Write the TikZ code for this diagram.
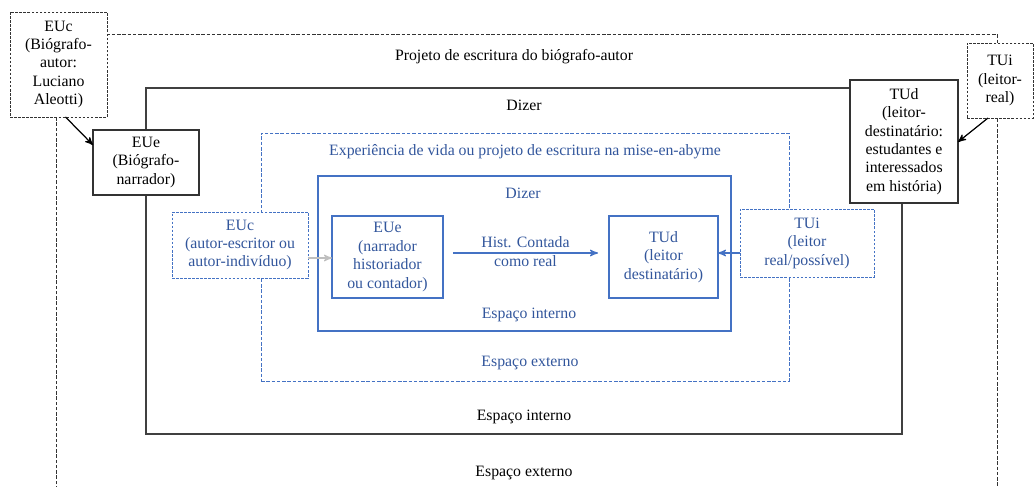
\documentclass[tikz,border=0pt]{standalone}
\usepackage{fontspec}
\setmainfont{Liberation Serif}
\usetikzlibrary{shapes,arrows}
\definecolor{miseblue}{RGB}{68,114,196}
\definecolor{misetext}{RGB}{50,86,156}

\tikzset{
  frame/.style={rectangle, draw=black!75, line width=0.9pt, inner sep=0pt, outer sep=0pt},
  dashframe/.style={draw=black!80, dash pattern=on 2pt off 1pt, line width=0.5pt},
  biobox/.style={rectangle, draw=black!80, line width=0.8pt, fill=white,
                 align=center, inner sep=0pt, outer sep=0pt},
  biodash/.style={biobox, dash pattern=on 1.5pt off 0.8pt, line width=0.5pt},
  misebox/.style={rectangle, draw=miseblue, line width=0.7pt, fill=white,
                  text=misetext, align=center, inner sep=0pt, outer sep=0pt},
  misedash/.style={misebox, dash pattern=on 1.5pt off 0.8pt, line width=0.5pt},
  miselabel/.style={text=misetext}
}

\begin{document}
\begin{tikzpicture}[x=0.02cm,y=-0.02cm,>=stealth',
                    font=\fontsize{9}{10.5}\selectfont]

      \useasboundingbox (0,0) rectangle (1035,487);

      % frames
      \coordinate (outerbl) at (56,500);
      \coordinate (outerbr) at (997,500);
      \draw[dashframe] (outerbl) |- (997,34) -- (outerbr);

      \node[frame,
            minimum width = 15.12cm,
            minimum height = 6.92cm] (mainbox) at (524,261) {};

      \node[rectangle,
            draw = miseblue,
            dash pattern = on 2pt off 1pt,
            line width = 0.5pt,
            minimum width = 10.56cm,
            minimum height = 4.96cm] (misebox) at (525,257) {};

      \node[rectangle,
            draw = miseblue,
            line width = 0.8pt,
            minimum width = 8.26cm,
            minimum height = 3.1cm] (dizerbox) at (524.5,253.5) {};

      % labels of the frames
      \node (projeto) at (514,57) {Projeto de escritura do biógrafo-autor};
      \node (dizer) at (524,105) {Dizer};
      \node (interno) at (524,417) {Espaço interno};
      \node (externo) at (524,473) {Espaço externo};
      \node[miselabel] (experiencia) at (525,152)
            {Experiência de vida ou projeto de escritura na mise-en-abyme};
      \node[miselabel] (dizermise) at (523,193) {Dizer};
      \node[miselabel] (internomise) at (529,315) {Espaço interno};
      \node[miselabel] (externomise) at (530,363) {Espaço externo};

      % biographer boxes
      \node[biodash,
            minimum width = 1.94cm,
            minimum height = 2.1cm] (EUcbio) at (58.5,64.5)
            {EUc\\(Biógrafo-\\autor:\\Luciano\\Aleotti)};

      \node[biobox,
            minimum width = 2.12cm,
            minimum height = 1.3cm] (EUebio) at (146,162.5)
            {EUe\\(Biógrafo-\\narrador)};

      \node[biobox,
            minimum width = 2.16cm,
            minimum height = 2.46cm] (TUdbio) at (904,141.5)
            {TUd\\(leitor-\\destinatário:\\estudantes e\\interessados\\em história)};

      \node[biodash,
            minimum width = 1.32cm,
            minimum height = 1.5cm] (TUibio) at (1000,80.5)
            {TUi\\(leitor-\\real)};

      % mise-en-abyme boxes
      \node[misedash,
            minimum width = 2.72cm,
            minimum height = 1.32cm] (EUcmise) at (240,245)
            {EUc\\(autor-escritor ou\\autor-indivíduo)};

      \node[misebox,
            minimum width = 2.22cm,
            minimum height = 1.64cm] (EUemise) at (387.5,257)
            {EUe\\(narrador\\historiador\\ou contador)};

      \node[misebox,
            minimum width = 2.18cm,
            minimum height = 1.64cm] (TUdmise) at (663.5,257)
            {TUd\\(leitor\\destinatário)};

      \node[misedash,
            minimum width = 2.68cm,
            minimum height = 1.36cm] (TUimise) at (807,243)
            {TUi\\(leitor\\real/possível)};

      \path[->, line width=0.7pt]
      % biographer arrows
      ([xshift=0.14cm]EUcbio.south) edge[black] ([yshift=-0.3cm]EUebio.north west)
      ([xshift=-0.24cm]TUibio.south) edge[black] ([yshift=-1.24cm]TUdbio.north east)
      % mise-en-abyme arrows
      (EUcmise.east |- 0,258) edge[gray!50] (EUemise.west |- 0,258)
      (TUimise.west |- 0,253) edge[miseblue] (TUdmise.east |- 0,253)
      ([xshift=0.2cm]EUemise.east |- 0,253) edge[miseblue]
            node[miselabel, align=center, yshift=0.03cm] {Hist. Contada\\como real}
            ([xshift=-0.22cm]TUdmise.west |- 0,253);

  \end{tikzpicture}
\end{document}
